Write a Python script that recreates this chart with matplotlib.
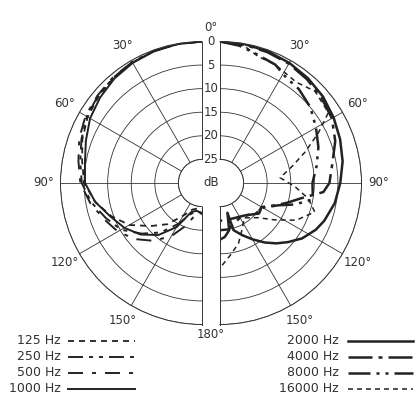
import numpy as np
import matplotlib
matplotlib.use("Agg")
import matplotlib.pyplot as plt
from matplotlib.transforms import offset_copy

plt.rcParams['font.family'] = 'DejaVu Sans'
plt.rcParams['lines.scale_dashes'] = False

INK = '#222222'
GRID = '#333333'
TXT = '#333333'

# attenuation in dB (0 = on-axis)
# left half: 125 .. 1000 Hz, shared angles
left_theta = [0, 10, 20, 30, 40, 50, 60, 70, 80, 90, 100, 110, 120, 130, 140, 150, 160, 170, 180]
hz125 = [0, 0.1, 0.2, 0.5, 0.9, 1.4, 2.0, 3.0, 4.2, 5.0, 7.0, 9.5, 12.2, 15.8, 18.6, 22.0, 24.0, 24.5, 23.5]
hz250 = [0, 0.1, 0.2, 0.4, 0.8, 1.2, 1.8, 2.8, 3.8, 4.5, 6.2, 8.3, 10.2, 13.3, 16.3, 20.0, 23.0, 24.0, 23.5]
hz500 = [0, 0.1, 0.2, 0.4, 0.7, 1.1, 1.5, 2.3, 3.4, 4.2, 5.9, 7.8, 9.4, 11.5, 14.0, 17.0, 20.5, 23.5, 23.5]
hz1000 = [0, 0.1, 0.3, 0.6, 1.1, 1.8, 2.6, 3.8, 4.8, 5.2, 7.0, 9.3, 11.0, 13.0, 15.6, 19.2, 23.5, 24.0, 23.5]

# right half: 2000 .. 16000 Hz, each with its own angles
th2000 = [0, 10, 20, 30, 40, 50, 60, 70, 80, 90, 100, 110, 116, 124, 131, 137, 143, 150, 157, 164, 166, 169, 175, 180]
hz2000 = [0, 0.1, 0.3, 0.6, 1.0, 1.5, 2.2, 2.9, 3.6, 4.5, 5.3, 6.5, 7.4, 9.0, 10.9, 12.5, 14.2, 16.2, 18.0, 19.6, 23.5, 19.8, 18.5, 18.0]

th4000 = [0, 10, 20, 30, 40, 50, 60, 70, 80, 90, 95, 101, 106, 111, 120, 128, 139, 150, 160, 170, 180]
hz4000 = [0, 0.2, 0.5, 0.8, 1.3, 1.9, 2.6, 4.0, 5.8, 6.8, 8.0, 12.7, 15.0, 17.0, 19.8, 19.5, 21.0, 21.5, 21.0, 20.0, 20.0]

th8000 = [0, 8, 15, 25, 32, 40, 50, 60, 70, 80, 90, 100, 106, 111, 120, 130, 145, 160, 175, 180]
hz8000 = [0, 0.6, 1.5, 2.3, 3.6, 4.0, 5.0, 6.5, 7.8, 9.2, 10.4, 10.0, 13.5, 16.8, 19.5, 20.0, 21.5, 22.0, 22.0, 22.0]

th16000 = [0, 10, 17, 25, 37, 46, 57, 63, 70, 77, 85, 93, 100, 107, 116, 124, 132, 145, 155, 163, 172, 180]
hz16000 = [0, 0.5, 2.0, 2.3, 3.2, 2.0, 2.6, 6.6, 10.8, 14.3, 17.2, 14.0, 11.0, 9.0, 12.0, 16.0, 19.0, 21.0, 19.0, 16.6, 14.5, 12.0]

rings = [0, 5, 10, 15, 20, 25]
spokes = [30, 60, 90, 120, 150]

left_names = ['125 Hz', '250 Hz', '500 Hz', '1000 Hz']
right_names = ['2000 Hz', '4000 Hz', '8000 Hz', '16000 Hz']

PX = 0.72  # points per pixel at 100 dpi


def dash(*px):
    return (0, [p * PX for p in px])


styles = {
    '125 Hz': dict(lw=1.3, ls=dash(6, 5)),
    '250 Hz': dict(lw=1.4, ls=dash(15, 6, 4, 6, 4, 6)),
    '500 Hz': dict(lw=1.4, ls=dash(15, 9, 4, 9)),
    '1000 Hz': dict(lw=1.4, ls='-'),
    '2000 Hz': dict(lw=1.8, ls='-'),
    '4000 Hz': dict(lw=1.8, ls=dash(24, 6, 4, 6)),
    '8000 Hz': dict(lw=1.8, ls=dash(22, 6, 3, 6, 3, 6)),
    '16000 Hz': dict(lw=1.1, ls=dash(5, 4)),
}

W = 418
R = 141.5
side = 2 * R
cy = 183
fig = plt.figure(figsize=(W / 100, W / 100), dpi=100)


def half_axes(cx, right):
    # the half disc sits off-centre in its square box
    frac = 0.25 if right else 0.75
    left_px = cx - frac * side
    bottom_px = W - (cy + R)
    ax = fig.add_axes([left_px / W, bottom_px / W, side / W, side / W], projection='polar')
    ax.set_theta_zero_location('N')
    ax.set_theta_direction(-1 if right else 1)
    ax.set_thetamin(0)
    ax.set_thetamax(180)
    ax.set_ylim(-25, 0)
    ax.set_rorigin(-30)
    ax.set_yticks([-r for r in rings])
    ax.set_yticklabels([])
    ax.set_xticks(np.radians(spokes))
    ax.set_xticklabels([f'{s}°' for s in spokes])
    ax.tick_params(axis='x', pad=2, labelsize=8.5, labelcolor=TXT)
    ax.grid(True, color=GRID, lw=0.6)
    for sp in ax.spines.values():
        sp.set_color(GRID)
        sp.set_linewidth(0.7)
    ax.set_facecolor('none')
    return ax


ax_l = half_axes(202, right=False)
ax_r = half_axes(220, right=True)

for name, vals in zip(left_names, [hz125, hz250, hz500, hz1000]):
    ax_l.plot(np.radians(left_theta), -np.array(vals), color=INK, **styles[name])

right_data = [(th2000, hz2000), (th4000, hz4000), (th8000, hz8000), (th16000, hz16000)]
for name, (th, vals) in zip(right_names, right_data):
    ax_r.plot(np.radians(th), -np.array(vals), color=INK, **styles[name])

# dB scale between the two halves
mid = offset_copy(ax_l.transData, fig=fig, x=9, y=0, units='dots')
for r in rings:
    ax_l.text(0, -r, str(r), transform=mid, ha='center', va='center',
              fontsize=8.5, color=TXT)
ax_l.text(0, -30, 'dB', transform=mid, ha='center', va='center', fontsize=8.5, color=TXT)
top = offset_copy(ax_l.transData, fig=fig, x=9, y=14, units='dots')
ax_l.text(0, 0, '0°', transform=top, ha='center', va='center', fontsize=8.5, color=TXT)
bot = offset_copy(ax_l.transData, fig=fig, x=9, y=-10, units='dots')
ax_l.text(np.pi, 0, '180°', transform=bot, ha='center', va='center', fontsize=8.5, color=TXT)

# legend drawn in pixel space
lax = fig.add_axes([0, 0, 1, 1])
lax.set_xlim(0, W)
lax.set_ylim(W, 0)
lax.axis('off')
rows = [341, 357, 373, 389]
for name, y in zip(left_names, rows):
    lax.text(61, y, name, ha='right', va='center', fontsize=9, color=TXT)
    lax.plot([68, 135], [y, y], color=INK, **styles[name])
for name, y in zip(right_names, rows):
    lax.text(339, y, name, ha='right', va='center', fontsize=9, color=TXT)
    lax.plot([348, 413], [y, y], color=INK, **styles[name])

fig.savefig('out.png', dpi=100, facecolor='white')
